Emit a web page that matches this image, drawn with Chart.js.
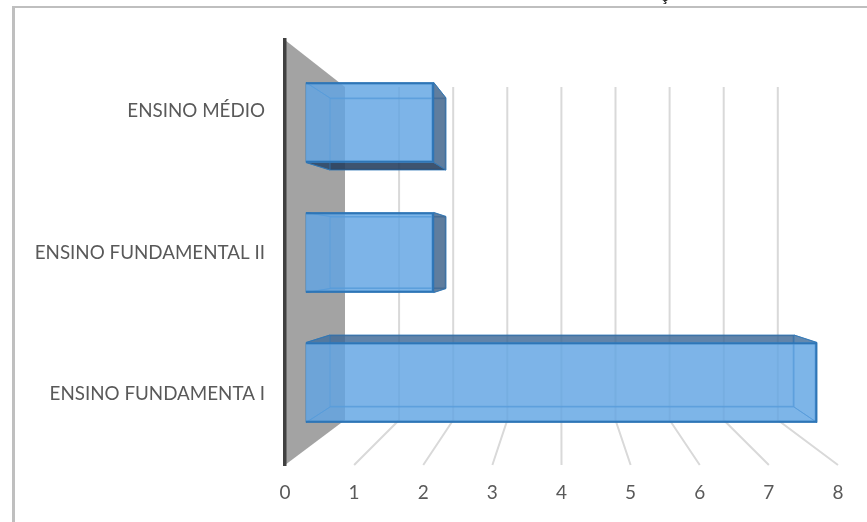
<!DOCTYPE html>
<html>
<head>
<meta charset="utf-8">
<style>
  html, body { margin: 0; padding: 0; background: #fff; }
  #wrap { position: relative; width: 867px; height: 522px; overflow: hidden; }
  canvas { position: absolute; left: 0; top: 0; }
</style>
<script src="https://cdn.jsdelivr.net/npm/chart.js@4/dist/chart.umd.min.js"></script>
</head>
<body>
<div id="wrap"><canvas id="c" width="867" height="522"></canvas></div>
<script>
// School levels, top to bottom, and how many of each
const categories = ['ENSINO MÉDIO', 'ENSINO FUNDAMENTAL II', 'ENSINO FUNDAMENTA I'];
const values = [2, 2, 8];
const xTicks = [0, 1, 2, 3, 4, 5, 6, 7, 8];

// Plot frame in canvas pixels
const AREA = { left: 285, right: 838, top: 40, bottom: 465 };

// Range for a value axis whose zero sits at `zero` with `perUnit` pixels per unit
function xRange(zero, perUnit) {
  return { min: (AREA.left - zero) / perUnit, max: (AREA.right - zero) / perUnit };
}
// Same idea for a row axis: row 0 centred at `first`, `step` pixels between rows
function yRange(first, step) {
  return { min: (AREA.top - first) / step, max: (AREA.bottom - first) / step };
}

// Each depth layer of the pseudo-3D box has its own pair of hidden axes
const hiddenX = (zero, perUnit) => ({ type: 'linear', display: false, ...xRange(zero, perUnit) });
const hiddenY = (first, step) => ({ type: 'linear', display: false, reverse: true, offset: false, ...yRange(first, step) });

const points = values.map((v, i) => ({ x: v, y: i }));

const FRONT = 0, BACK = 1;

// Back wall, floor lines, and side faces of the boxes
const depthPlugin = {
  id: 'depth',
  beforeDatasetsDraw(chart) {
    const { ctx, scales } = chart;
    const { left, top, bottom } = chart.chartArea;
    const wx = scales.xWall, wy = scales.yWall, fx = scales.x;
    const wallTop = wy.getPixelForValue(0), wallBottom = wy.getPixelForValue(1);
    ctx.save();
    ctx.fillStyle = '#a3a3a3';
    ctx.beginPath();
    ctx.moveTo(left, top);
    ctx.lineTo(wx.getPixelForValue(0), wallTop);
    ctx.lineTo(wx.getPixelForValue(0), wallBottom);
    ctx.lineTo(left, bottom);
    ctx.closePath();
    ctx.fill();
    ctx.strokeStyle = '#d9d9d9';
    ctx.lineWidth = 2;
    xTicks.slice(1).forEach(t => {
      const px = wx.getPixelForValue(t);
      ctx.beginPath();
      ctx.moveTo(px, wallTop);
      ctx.lineTo(px, wallBottom);
      ctx.lineTo(fx.getPixelForValue(t), bottom);
      ctx.stroke();
    });
    ctx.restore();
  },
  afterDatasetDraw(chart, args) {
    if (args.index !== BACK) return;
    const { ctx } = chart;
    const front = chart.getDatasetMeta(FRONT).data;
    const back = chart.getDatasetMeta(BACK).data;
    const inner = 'rgba(91,155,213,0.1)';
    ctx.save();
    ctx.lineWidth = 1;
    ctx.lineJoin = 'round';
    ctx.strokeStyle = 'rgba(46,117,182,0.75)';
    front.forEach((f, i) => {
      const b = back[i];
      const F = { l: f.base, r: f.x, t: f.y - f.height / 2, b: f.y + f.height / 2 };
      const B = { l: b.base, r: b.x, t: b.y - b.height / 2, b: b.y + b.height / 2 };
      // A face that bulges past the front rectangle is seen from outside and reads darker
      const faces = [
        { pts: [[F.l, F.t], [F.r, F.t], [B.r, B.t], [B.l, B.t]], fill: B.t < F.t ? 'rgba(62,105,150,0.8)' : inner },
        { pts: [[F.l, F.b], [F.r, F.b], [B.r, B.b], [B.l, B.b]], fill: B.b > F.b ? 'rgba(38,62,92,0.88)' : inner },
        { pts: [[F.r, F.t], [F.r, F.b], [B.r, B.b], [B.r, B.t]], fill: B.r > F.r ? 'rgba(70,105,142,0.85)' : inner },
        { pts: [[F.l, F.t], [F.l, F.b], [B.l, B.b], [B.l, B.t]], fill: inner }
      ];
      faces.forEach(face => {
        ctx.beginPath();
        face.pts.forEach((p, k) => k ? ctx.lineTo(p[0], p[1]) : ctx.moveTo(p[0], p[1]));
        ctx.closePath();
        ctx.fillStyle = face.fill;
        ctx.fill();
        ctx.stroke();
      });
    });
    ctx.restore();
  }
};

// Sheet edge along the top and left, with the cut-off heading running off the top
const sheetPlugin = {
  id: 'sheet',
  beforeDraw(chart) {
    const { ctx } = chart;
    ctx.save();
    ctx.fillStyle = '#bfbfbf';
    ctx.fillRect(12, 6, 855, 2);
    ctx.fillRect(12, 6, 3, 516);
    ctx.fillStyle = '#222';
    ctx.font = 'bold 15px "Liberation Sans"';
    ctx.textAlign = 'center';
    ctx.textBaseline = 'alphabetic';
    ctx.fillText('ç', 665, 1);
    ctx.restore();
  }
};

new Chart(document.getElementById('c'), {
  type: 'bar',
  data: {
    labels: categories,
    datasets: [
      {
        label: 'front',
        data: points,
        xAxisID: 'xFront',
        yAxisID: 'yFront',
        order: 1,
        grouped: false,
        barThickness: 80,
        backgroundColor: 'rgba(98,165,228,0.8)',
        borderColor: '#2e75b6',
        borderWidth: 2
      },
      {
        label: 'back',
        data: points,
        xAxisID: 'xBack',
        yAxisID: 'yBack',
        order: 2,
        grouped: false,
        barThickness: 72,
        backgroundColor: 'rgba(91,155,213,0.12)',
        borderColor: 'rgba(46,117,182,0.7)',
        borderWidth: 1
      }
    ]
  },
  options: {
    indexAxis: 'y',
    responsive: false,
    animation: false,
    parsing: false,
    normalized: true,
    layout: { padding: { left: 0, top: AREA.top, right: 867 - AREA.right, bottom: 0 } },
    plugins: { legend: { display: false }, title: { display: false }, tooltip: { enabled: false } },
    scales: {
      x: {
        type: 'linear',
        position: 'bottom',
        min: 0,
        max: 8,
        afterFit(s) { s.height = 522 - AREA.bottom; },
        afterBuildTicks(s) { s.ticks = xTicks.map(value => ({ value })); },
        grid: { display: false, drawTicks: false },
        border: { display: false },
        ticks: {
          padding: 16,
          maxRotation: 0,
          autoSkip: false,
          color: '#595959',
          font: { family: 'Lato', size: 19 }
        }
      },
      y: {
        type: 'category',
        position: 'left',
        labels: categories,
        afterFit(s) { s.width = AREA.left; },
        grid: { display: false, drawTicks: false },
        border: { display: true, color: '#404040', width: 3.5, z: 1 },
        ticks: {
          padding: 20,
          color: '#595959',
          font: { family: 'Lato', size: 18.8 }
        }
      },
      xFront: hiddenX(306, 63.875),
      yFront: hiddenY(122.5, 130),
      xBack: hiddenX(330, 58),
      yBack: hiddenY(134, 118.5),
      xWall: hiddenX(345, 54.1),
      yWall: hiddenY(87, 333)
    }
  },
  plugins: [sheetPlugin, depthPlugin]
});
</script>
</body>
</html>
